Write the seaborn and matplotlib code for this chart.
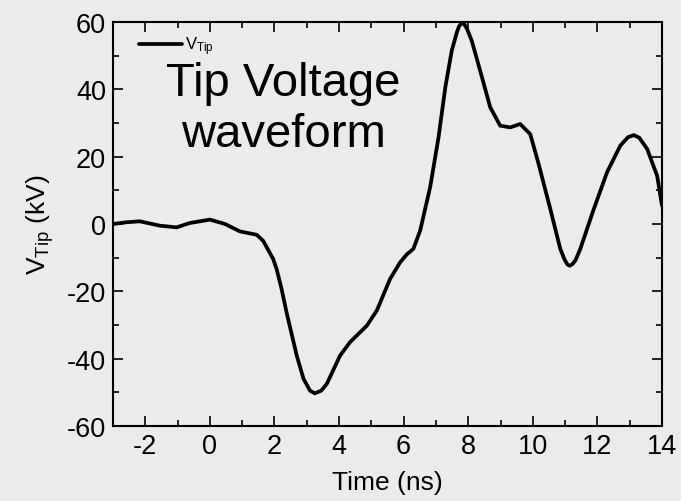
import matplotlib
matplotlib.use("Agg")
import matplotlib.pyplot as plt
import seaborn as sns
import pandas as pd
from matplotlib.ticker import MultipleLocator

time_ns = [-3.0, -2.6, -2.17, -1.55, -1.03, -0.62, 0.0, 0.47, 0.93, 1.24, 1.45, 1.65, 1.96,
           2.07, 2.22, 2.38, 2.69, 2.9, 3.1, 3.25, 3.45, 3.62, 4.03, 4.34, 4.86, 5.17, 5.58,
           5.89, 6.10, 6.30, 6.51, 6.82, 7.08, 7.29, 7.49, 7.65, 7.72, 7.80, 7.88, 7.96, 8.11,
           8.37, 8.68, 8.99, 9.30, 9.61, 9.92, 10.18, 10.54, 10.85, 10.98, 11.07, 11.14, 11.22,
           11.32, 11.47, 11.89, 12.30, 12.71, 12.95, 13.13, 13.3, 13.54, 13.85, 14.0]
v_tip_kv = [0.0, 0.5, 0.8, -0.5, -1.0, 0.3, 1.3, 0.0, -2.2, -2.8, -3.2, -5.0, -10.4,
            -13.5, -19.3, -26.5, -39.1, -46.0, -49.5, -50.3, -49.5, -47.5, -39.1, -35.1,
            -30.2, -25.7, -16.3, -11.4, -9.0, -7.4, -2.0, 10.9, 25.7, 40.6, 51.5, 57.0, 58.8,
            59.7, 59.3, 58.0, 54.4, 45.5, 34.7, 29.2, 28.7, 29.7, 26.7, 17.8, 4.5, -7.4,
            -10.5, -12.0, -12.4, -12.0, -10.8, -7.4, 4.5, 15.4, 23.3, 25.8, 26.4, 25.6, 22.3,
            14.3, 5.4]

df = pd.DataFrame({"Time (ns)": time_ns, "V": v_tip_kv})

bg = "#ebebeb"
sns.set_style("ticks", {"axes.facecolor": bg, "figure.facecolor": bg})
plt.rcParams["font.family"] = ["Liberation Sans", "DejaVu Sans"]
plt.rcParams["mathtext.fontset"] = "custom"
plt.rcParams["mathtext.rm"] = "Liberation Sans"
plt.rcParams["mathtext.it"] = "Liberation Sans"
plt.rcParams["axes.unicode_minus"] = False
for k in ["text.color", "axes.labelcolor", "xtick.color", "ytick.color", "axes.edgecolor"]:
    plt.rcParams[k] = "black"

fig = plt.figure(figsize=(6.81, 5.02), dpi=100)
ax = fig.add_axes([113 / 681, 1 - 427 / 502, (662 - 113) / 681, (427 - 23) / 502])
sns.lineplot(data=df, x="Time (ns)", y="V", ax=ax, color="black", linewidth=2.7,
             label=r"$\mathregular{V_{Tip}}$", sort=False)
ax.lines[0].set_solid_joinstyle("round")

ax.set_xlim(-3, 14)
ax.set_ylim(-60, 60)
ax.xaxis.set_major_locator(MultipleLocator(2))
ax.xaxis.set_minor_locator(MultipleLocator(1))
ax.yaxis.set_major_locator(MultipleLocator(20))
ax.yaxis.set_minor_locator(MultipleLocator(10))
ax.tick_params(which="both", direction="in", top=True, right=True, labelsize=19.5, width=1.2)
ax.tick_params(which="major", length=7, pad=5)
ax.tick_params(which="minor", length=4)
for s in ax.spines.values():
    s.set_linewidth(1.5)
ax.set_xlabel("Time (ns)", fontsize=19, labelpad=8)
ax.set_ylabel(r"$\mathregular{V_{Tip}}$ (kV)", fontsize=19, labelpad=8)

leg = ax.legend(loc="upper left", frameon=False, fontsize=12, handlelength=2.6,
                bbox_to_anchor=(0.035, 0.985), borderaxespad=0.0, handletextpad=0.15)
ax.text(0.31, 0.785, "Tip Voltage\nwaveform", transform=ax.transAxes, ha="center",
        va="center", fontsize=34, linespacing=1.2)

fig.savefig("out.png", dpi=100, facecolor=bg)
